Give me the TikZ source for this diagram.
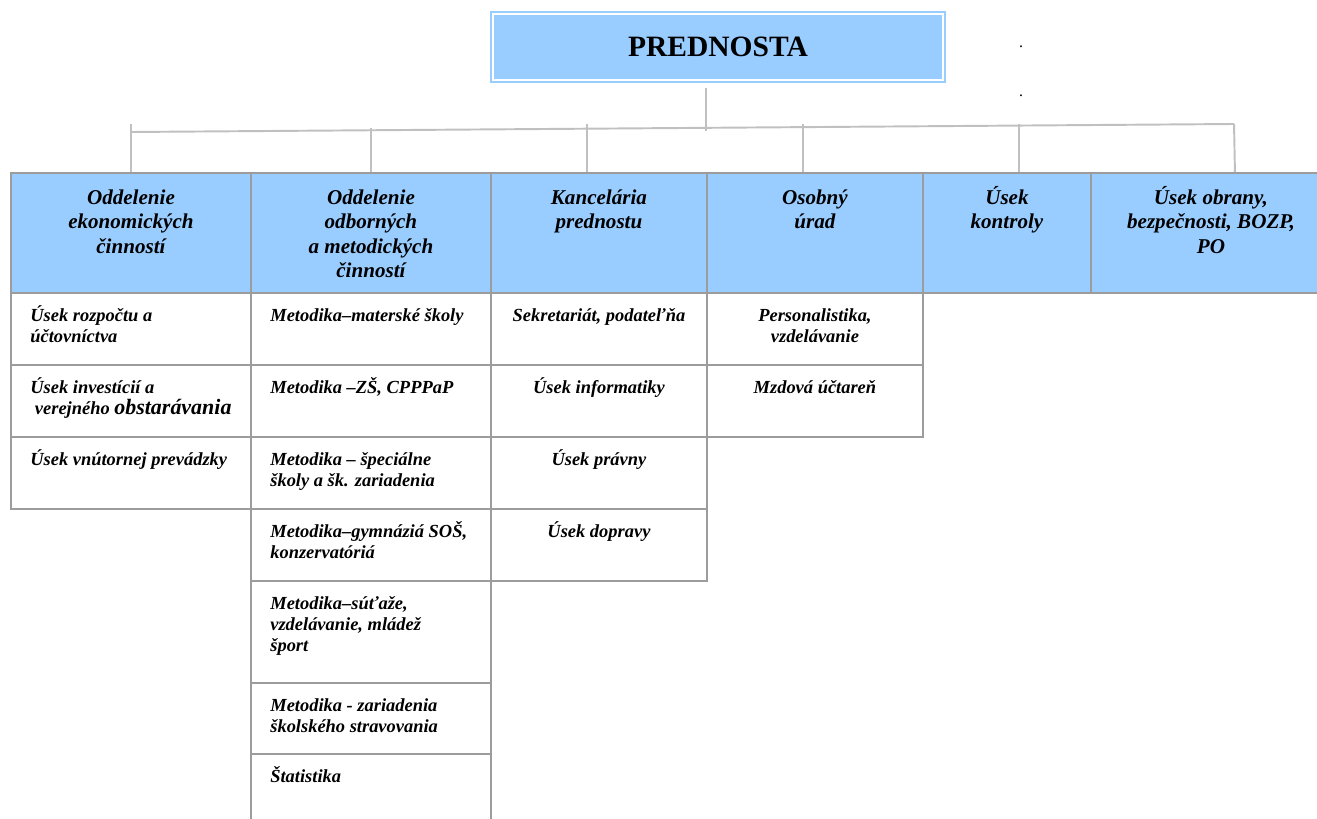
\documentclass[tikz,border=0pt]{standalone}
\usepackage{fontspec}
\setmainfont{Liberation Serif}
\usetikzlibrary{positioning}

\definecolor{hdrblue}{HTML}{99CCFF}
\definecolor{cellline}{HTML}{9C9C9C}
\definecolor{connline}{HTML}{C0C0C0}

\tikzset{
  boss/.style={draw=hdrblue, double=white, double distance=1.1pt, line width=1pt,
    fill=hdrblue, minimum width=9.01cm, minimum height=1.33cm, inner sep=0pt,
    font=\fontsize{16.8}{20}\selectfont\bfseries},
  hdr/.style={draw=cellline, fill=hdrblue, line width=1.1pt, anchor=north west,
    minimum height=2.4cm, inner sep=0pt},
  sub/.style={draw=cellline, line width=1.1pt, anchor=north west,
    minimum height=1.44cm, inner sep=0pt},
  htxt/.style={anchor=base, align=center, inner sep=0pt,
    font=\fontsize{12}{13.9}\selectfont\bfseries\itshape},
  stxt/.style={anchor=base, align=center, inner sep=0pt,
    font=\fontsize{10.5}{11.9}\selectfont\bfseries\itshape},
  stxtl/.style={stxt, anchor=base west, align=left},
  conn/.style={draw=connline, line width=1.1pt},
  dotmark/.style={inner sep=0pt, font=\fontsize{9}{10}\selectfont},
}

\begin{document}
\begin{tikzpicture}[x=0.02cm, y=-0.02cm]
    \useasboundingbox (0,0) rectangle (1317,818);

    % prednosta
    \node[boss] (prednosta) at (718,47) {PREDNOSTA};
    \node[dotmark] (dot1) at (1021,47) {.};
    \node[dotmark] (dot2) at (1021,96) {.};

    % header row (text anchored on the last line: 32 + 24.5 per extra line)
    \node[hdr, minimum width=4.8cm] (h1) at (10,172) {};
    \node[hdr, minimum width=4.8cm] (h2) at (250,172) {};
    \node[hdr, minimum width=4.32cm] (h3) at (490,172) {};
    \node[hdr, minimum width=4.32cm] (h4) at (706,172) {};
    \node[hdr, minimum width=3.36cm] (h5) at (922,172) {};
    \node[hdr, minimum width=4.8cm] (h6) at (1090,172) {};

    \node[htxt] (h1t) at ([shift={(0,81)}]h1.north) {Oddelenie\\ekonomických\\činností};
    \node[htxt] (h2t) at ([shift={(0,105.5)}]h2.north) {Oddelenie\\odborných\\a metodických\\činností};
    \node[htxt] (h3t) at ([shift={(0,56.5)}]h3.north) {Kancelária\\prednostu};
    \node[htxt] (h4t) at ([shift={(0,56.5)}]h4.north) {Osobný\\úrad};
    \node[htxt] (h5t) at ([shift={(0,56.5)}]h5.north) {Úsek\\kontroly};
    \node[htxt] (h6t) at ([shift={(0,81)}]h6.north) {Úsek obrany,\\bezpečnosti, BOZP,\\PO};

    % connectors
    \coordinate (busL) at (130,132);
    \coordinate (busR) at (1234,124);
    \draw[conn] ([shift={(-12,7)}]prednosta.south) -- ++(0,43);
    \draw[conn] (busL) -- (busR);
    \draw[conn] (h1.north) -- ++(0,-48);
    \draw[conn] (h2.north) -- ++(0,-44);
    \draw[conn] ([shift={(-12,0)}]h3.north) -- ++(0,-48);
    \draw[conn] ([shift={(-12,0)}]h4.north) -- ++(0,-48);
    \draw[conn] ([shift={(12,0)}]h5.north) -- ++(0,-48);
    \draw[conn] ([shift={(24,0)}]h6.north) -- (busR);

    % ekonomicke cinnosti (29 + 21 per extra line)
    \node[sub, minimum width=4.8cm] (s11) at (10,292) {};
    \node[sub, minimum width=4.8cm] (s12) at (10,364) {};
    \node[sub, minimum width=4.8cm] (s13) at (10,436) {};
    \node[stxtl] (s11t) at ([shift={(20,50)}]s11.north west) {Úsek rozpočtu a\\účtovníctva};
    \node[stxtl] (s12t) at ([shift={(20,50)}]s12.north west) {Úsek investícií a\\\ verejného {\fontsize{12.5}{11.9}\selectfont obstarávania}};
    \node[stxtl] (s13t) at ([shift={(20,29)}]s13.north west) {Úsek vnútornej prevádzky};

    % odborne a metodicke cinnosti
    \node[sub, minimum width=4.8cm] (s21) at (250,292) {};
    \node[sub, minimum width=4.8cm] (s22) at (250,364) {};
    \node[sub, minimum width=4.8cm] (s23) at (250,436) {};
    \node[sub, minimum width=4.8cm] (s24) at (250,508) {};
    \node[sub, minimum width=4.8cm, minimum height=2.04cm] (s25) at (250,580) {};
    \node[sub, minimum width=4.8cm, minimum height=1.42cm] (s26) at (250,682) {};
    \node[sub, minimum width=4.8cm, minimum height=1.6cm] (s27) at (250,753) {};
    \node[stxtl] (s21t) at ([shift={(20,29)}]s21.north west) {Metodika–materské školy};
    \node[stxtl] (s22t) at ([shift={(20,29)}]s22.north west) {Metodika –ZŠ, CPPPaP};
    \node[stxtl] (s23t) at ([shift={(20,50)}]s23.north west) {Metodika – špeciálne\\školy a šk. zariadenia};
    \node[stxtl] (s24t) at ([shift={(20,50)}]s24.north west) {Metodika–gymnáziá SOŠ,\\konzervatóriá};
    \node[stxtl] (s25t) at ([shift={(20,71)}]s25.north west) {Metodika–súťaže,\\vzdelávanie, mládež\\šport};
    \node[stxtl] (s26t) at ([shift={(20,50)}]s26.north west) {Metodika - zariadenia\\školského stravovania};
    \node[stxtl] (s27t) at ([shift={(20,29)}]s27.north west) {Štatistika};

    % kancelaria
    \node[sub, minimum width=4.32cm] (s31) at (490,292) {};
    \node[sub, minimum width=4.32cm] (s32) at (490,364) {};
    \node[sub, minimum width=4.32cm] (s33) at (490,436) {};
    \node[sub, minimum width=4.32cm] (s34) at (490,508) {};
    \node[stxt] (s31t) at ([shift={(0,29)}]s31.north) {Sekretariát, podateľňa};
    \node[stxt] (s32t) at ([shift={(0,29)}]s32.north) {Úsek informatiky};
    \node[stxt] (s33t) at ([shift={(0,29)}]s33.north) {Úsek právny};
    \node[stxt] (s34t) at ([shift={(0,29)}]s34.north) {Úsek dopravy};

    % osobny urad
    \node[sub, minimum width=4.32cm] (s41) at (706,292) {};
    \node[sub, minimum width=4.32cm] (s42) at (706,364) {};
    \node[stxt] (s41t) at ([shift={(0,50)}]s41.north) {Personalistika,\\vzdelávanie};
    \node[stxt] (s42t) at ([shift={(0,29)}]s42.north) {Mzdová účtareň};

\end{tikzpicture}
\end{document}
